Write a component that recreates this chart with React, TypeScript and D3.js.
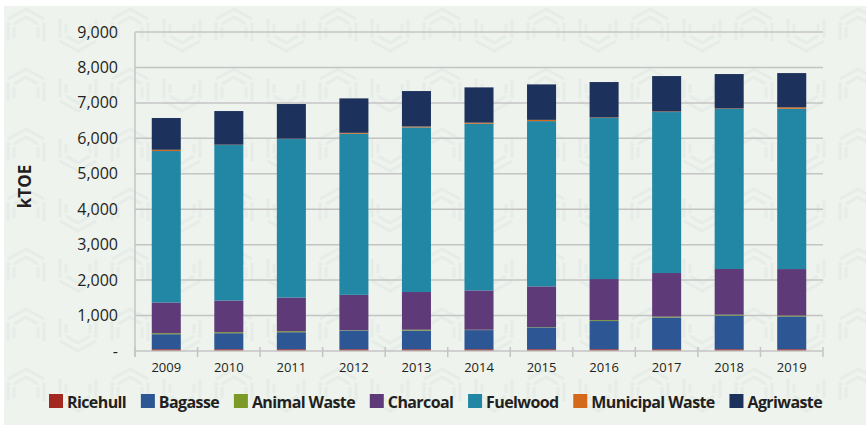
import React, { useRef, useEffect } from "react";
import * as d3 from "d3";

// values in kTOE
const years = ["2009", "2010", "2011", "2012", "2013", "2014", "2015", "2016", "2017", "2018", "2019"];
const ricehull = [50, 50, 50, 50, 50, 50, 50, 50, 50, 50, 50];
const bagasse = [424, 452, 480, 527, 525, 540, 617, 795, 895, 950, 925];
const animalWaste = [28, 28, 28, 10, 25, 10, 10, 25, 25, 25, 25];
const charcoal = [866, 895, 951, 997, 1064, 1110, 1146, 1160, 1230, 1288, 1312];
const fuelwood = [4274, 4386, 4471, 4546, 4645, 4702, 4663, 4543, 4542, 4514, 4522];
const municipalWaste = [35, 10, 10, 25, 25, 30, 35, 15, 15, 15, 40];
const agriwaste = [896, 949, 978, 972, 1000, 995, 1001, 1000, 1000, 972, 967];

const seriesNames = ["Ricehull", "Bagasse", "Animal Waste", "Charcoal", "Fuelwood", "Municipal Waste", "Agriwaste"];
const seriesValues = [ricehull, bagasse, animalWaste, charcoal, fuelwood, municipalWaste, agriwaste];
const seriesColors = ["#a3281f", "#2c5694", "#7b9a28", "#5f3a78", "#2187a4", "#d4691b", "#1c315b"];
const yTicks = [0, 1000, 2000, 3000, 4000, 5000, 6000, 7000, 8000, 9000];

const FONT = "'Open Sans', sans-serif";

const BiomassChart = () => {
	const chartRef = useRef<SVGSVGElement>(null);

	useEffect(() => {
		const width = 866;
		const height = 425;
		const margin = { top: 32, right: 43, bottom: 74, left: 135 };

		document.body.style.margin = "0";

		const svg = d3.select(chartRef.current).attr("width", width).attr("height", height);
		svg.selectAll("*").remove();

		// background panel with a faint hex-ish pattern
		const defs = svg.append("defs");
		const pat = defs.append("pattern")
			.attr("id", "bgpat")
			.attr("patternUnits", "userSpaceOnUse")
			.attr("width", 104)
			.attr("height", 60);
		pat.append("rect").attr("width", 104).attr("height", 60).attr("fill", "#eef3ed");
		const hexLines = [
			"M8,19 L26,9 L44,19", "M14,24 L26,17 L38,24", "M8,41 L8,22", "M14,38 L14,27", "M44,41 L44,22", "M38,38 L38,27",
			"M60,41 L78,51 L96,41", "M66,36 L78,43 L90,36", "M60,19 L60,38", "M66,24 L66,33", "M96,19 L96,38", "M90,24 L90,33"
		];
		pat.selectAll("path")
			.data(hexLines)
			.enter()
			.append("path")
			.attr("d", d => d)
			.attr("fill", "none")
			.attr("stroke", "#e6ece7")
			.attr("stroke-width", 3);

		svg.append("rect").attr("width", width).attr("height", height).attr("fill", "#ffffff");
		svg.append("rect")
			.attr("x", 4)
			.attr("y", 6)
			.attr("width", width - 4)
			.attr("height", height - 6)
			.attr("fill", "url(#bgpat)");

		// data rows for the stack
		const rows = years.map((year, i) => {
			const row: any = { year };
			seriesNames.forEach((name, j) => { row[name] = seriesValues[j][i]; });
			return row;
		});
		const stacked = d3.stack().keys(seriesNames)(rows);

		const xScale = d3.scaleBand()
			.domain(years)
			.range([margin.left, width - margin.right])
			.paddingInner(0.536)
			.paddingOuter(0.268);

		const yScale = d3.scaleLinear()
			.domain([0, 9000])
			.range([height - margin.bottom, margin.top]);

		const color = d3.scaleOrdinal<string, string>().domain(seriesNames).range(seriesColors);

		// gridlines
		svg.append("g")
			.selectAll("line")
			.data(yTicks.filter(d => d > 0))
			.enter()
			.append("line")
			.attr("x1", margin.left)
			.attr("x2", width - margin.right)
			.attr("y1", d => yScale(d))
			.attr("y2", d => yScale(d))
			.attr("stroke", "#c4c4c4")
			.attr("stroke-width", 1.5);

		// y tick labels
		svg.append("g")
			.selectAll("text")
			.data(yTicks)
			.enter()
			.append("text")
			.attr("x", margin.left - 17)
			.attr("y", d => yScale(d))
			.attr("dy", "0.35em")
			.attr("text-anchor", "end")
			.attr("font-family", FONT)
			.attr("font-size", 16)
			.attr("fill", "#231f20")
			.text(d => d === 0 ? "-" : d3.format(",")(d));

		// y axis title
		svg.append("text")
			.attr("transform", `translate(31, ${(margin.top + height - margin.bottom) / 2 - 5}) rotate(-90)`)
			.attr("text-anchor", "middle")
			.attr("font-family", FONT)
			.attr("font-weight", 700)
			.attr("font-size", 17)
			.attr("fill", "#231f20")
			.text("kTOE");

		// bars
		svg.append("g")
			.selectAll("g")
			.data(stacked)
			.enter()
			.append("g")
			.attr("fill", d => color(d.key))
			.selectAll("rect")
			.data(d => d)
			.enter()
			.append("rect")
			.attr("x", d => xScale(d.data.year as any))
			.attr("width", xScale.bandwidth())
			.attr("y", d => yScale(d[1]))
			.attr("height", d => yScale(d[0]) - yScale(d[1]));

		// axes lines
		const y0 = yScale(0);
		svg.append("line")
			.attr("x1", margin.left).attr("x2", margin.left)
			.attr("y1", margin.top).attr("y2", y0 + 6)
			.attr("stroke", "#c4c4c4").attr("stroke-width", 1.5);
		svg.append("line")
			.attr("x1", margin.left).attr("x2", width - margin.right)
			.attr("y1", y0).attr("y2", y0)
			.attr("stroke", "#c4c4c4").attr("stroke-width", 1.5);

		// category boundary ticks
		const bounds = d3.range(years.length + 1).map(i => xScale.range()[0] + i * xScale.step());
		svg.append("g")
			.selectAll("line")
			.data(bounds)
			.enter()
			.append("line")
			.attr("x1", d => d).attr("x2", d => d)
			.attr("y1", y0 - 4).attr("y2", y0 + 6)
			.attr("stroke", "#c4c4c4").attr("stroke-width", 1.5);

		// x labels
		svg.append("g")
			.selectAll("text")
			.data(years)
			.enter()
			.append("text")
			.attr("x", d => (xScale(d) as number) + xScale.bandwidth() / 2)
			.attr("y", y0 + 21)
			.attr("text-anchor", "middle")
			.attr("font-family", FONT)
			.attr("font-size", 13)
			.attr("fill", "#231f20")
			.text(d => d);

		// legend, spread between the left and right ends
		const legendLeft = 49;
		const legendRight = 822;
		const sw = 14;
		const legend = svg.append("g");
		const items = legend.selectAll("g")
			.data(seriesNames)
			.enter()
			.append("g");
		items.append("rect")
			.attr("width", sw)
			.attr("height", sw)
			.attr("y", 394)
			.attr("fill", d => color(d));
		const labels = items.append("text")
			.attr("x", sw + 4)
			.attr("y", 407.5)
			.attr("font-family", FONT)
			.attr("font-weight", 700)
			.attr("font-size", 16)
			.attr("letter-spacing", -0.6)
			.attr("fill", "#231f20")
			.text(d => d);
		const widths = labels.nodes().map(n => (n as SVGTextElement).getComputedTextLength());
		const itemW = widths.map(w => sw + 4 + w);
		const gap = (legendRight - legendLeft - d3.sum(itemW)) / (seriesNames.length - 1);
		let cx = legendLeft;
		const offsets = itemW.map(w => { const o = cx; cx += w + gap; return o; });
		items.attr("transform", (d, i) => `translate(${offsets[i]}, 0)`);
	}, []);

	return <svg ref={chartRef} style={{ display: "block" }}></svg>;
};

export default function App() {
	return <BiomassChart />;
}
